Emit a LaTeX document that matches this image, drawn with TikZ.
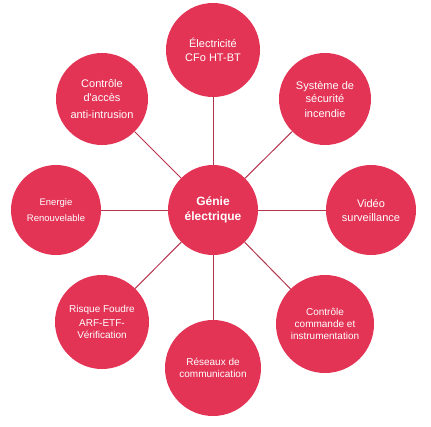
\documentclass[tikz,border=0pt]{standalone}
\usepackage{fontspec}
\newfontfamily\arialf{Liberation Sans}
\definecolor{crim}{HTML}{E33456}
\definecolor{linec}{HTML}{B5354F}
\tikzset{
  bub/.style={circle, fill=crim, draw=none, text=white, align=center, inner sep=0pt},
  conn/.style={draw=linec, line width=1pt},
  fa/.style={font=\arialf\fontsize{11}{14}\selectfont},
  fb/.style={font=\arialf\fontsize{10}{12}\selectfont},
}
\begin{document}
\begin{tikzpicture}[x=1pt, y=-1pt]
\useasboundingbox (0,0) rectangle (431,426);
\node[bub, minimum size=90pt, font=\arialf\bfseries\fontsize{12}{15}\selectfont] (c) at (213,210) {Génie\\électrique};
\node[bub, fa, minimum size=94pt] (elec) at (213,50) {\raisebox{-3pt}{}Électricité\\CFo HT-BT};
\node[bub, fa, minimum size=92pt] (acces) at (102,99) {Contrôle\\d'accès\\[3pt]anti-intrusion};
\node[bub, fa, minimum size=92pt] (sys) at (325,99) {Système de\\sécurité\\incendie};
\node[bub, minimum size=90pt, font=\arialf\fontsize{9.5}{16}\selectfont] (ener) at (56,210) {Energie\\Renouvelable};
\node[bub, fa, minimum size=90pt] (vid) at (371,210) {Vidéo\\surveillance};
\node[bub, fb, minimum size=94pt] (risq) at (102,322) {Risque Foudre\\[2pt]ARF-ETF-\\Vérification};
\node[bub, fb, minimum size=96pt] (res) at (213,368) {Réseaux de\\communication};
\node[bub, fb, minimum size=98pt] (cmd) at (325,324) {Contrôle\\commande et\\instrumentation};
\foreach \n in {elec,acces,sys,ener,vid,risq,res,cmd}
  \draw[conn] (c) -- (\n);
\end{tikzpicture}
\end{document}
